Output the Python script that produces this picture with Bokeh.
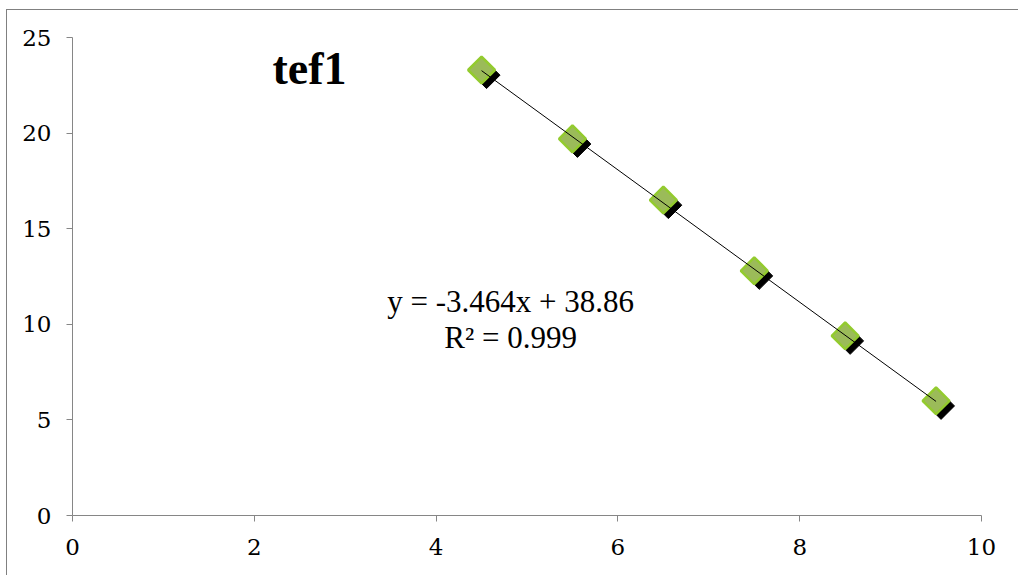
import numpy as np
from bokeh.plotting import figure
from bokeh.models import ColumnDataSource, Range1d, FixedTicker, Label
from bokeh.transform import dodge
from bokeh.embed import file_html
from bokeh.resources import INLINE

# ---- data ----
dilution_x = [4.5, 5.5, 6.5, 7.5, 8.5, 9.5]
ct_values = [23.3, 19.7, 16.5, 12.8, 9.4, 6.0]
x_ticks = [0, 2, 4, 6, 8, 10]
y_ticks = [0, 5, 10, 15, 20, 25]
title_text = "tef1"
equation_text = "y = -3.464x + 38.86"
r2_text = "R\u00b2 = 0.999"

src = ColumnDataSource(dict(x=dilution_x, y=ct_values))

# linear trendline (least squares fit, like Excel's trendline)
slope, intercept = np.polyfit(dilution_x, ct_values, 1)
tx = [min(dilution_x), max(dilution_x)]
ty = [slope * v + intercept for v in tx]

AX = "#868686"
SERIF = "DejaVu Serif"
TIMES = "Liberation Serif"

p = figure(width=1012, height=566, output_backend="svg", toolbar_location=None,
           x_range=Range1d(0, 10), y_range=Range1d(0, 25),
           min_border_left=65, min_border_top=27, min_border_right=38,
           min_border_bottom=61)
p.styles = {"margin-left": "6px", "margin-top": "9px",
            "border-left": "1px solid #808080", "border-top": "1px solid #808080"}
p.outline_line_color = None
p.xgrid.visible = False
p.ygrid.visible = False

for ax, ticks in ((p.xaxis[0], x_ticks), (p.yaxis[0], y_ticks)):
    ax.ticker = FixedTicker(ticks=ticks)
    ax.axis_line_color = AX
    ax.major_tick_line_color = AX
    ax.major_tick_out = 6
    ax.major_tick_in = 0
    ax.minor_tick_line_color = None
    ax.major_label_text_font = SERIF
    ax.major_label_text_font_size = "23px"
    ax.major_label_text_color = "#000000"
p.xaxis.major_label_standoff = 17
p.yaxis.major_label_standoff = 15

# shadow markers
p.scatter(x=dodge("x", 0.055, range=p.x_range), y=dodge("y", -0.27, range=p.y_range),
          source=src, marker="square", size=19, angle=np.pi / 4,
          fill_color="#000000", line_color="#000000")
# green markers
p.scatter(x="x", y="y", source=src, marker="square", size=19, angle=np.pi / 4,
          fill_color="#9BBB59", line_color="#93CB2E", line_width=2.5)
# trendline
p.line(tx, ty, line_color="#000000", line_width=1)

p.add_layout(Label(x=2.2, y=23.38, text=title_text, text_font=TIMES,
                   text_font_style="bold", text_font_size="46px",
                   text_baseline="alphabetic", text_color="#000000"))
p.add_layout(Label(x=4.82, y=11.2, text=equation_text, text_font=TIMES,
                   text_font_size="31px", text_align="center",
                   text_baseline="alphabetic", text_color="#000000"))
p.add_layout(Label(x=4.82, y=9.3, text=r2_text, text_font=TIMES,
                   text_font_size="31px", text_align="center",
                   text_baseline="alphabetic", text_color="#000000"))

open("out.html", "w").write(file_html(p, INLINE))
